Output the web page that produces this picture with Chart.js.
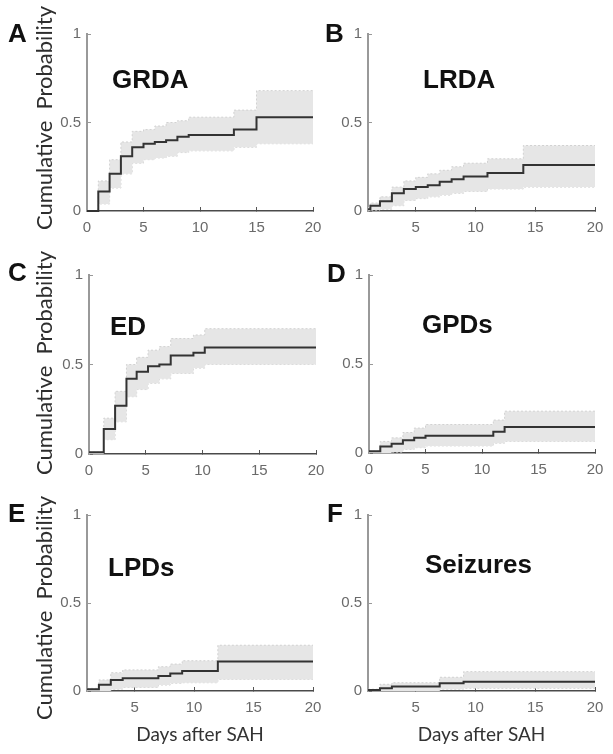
<!DOCTYPE html>
<html>
<head>
<meta charset="utf-8">
<script src="https://cdn.jsdelivr.net/npm/chart.js@4.4.0/dist/chart.umd.min.js"></script>
<style>
  html, body { margin: 0; padding: 0; background: #fff; }
  #fig { position: relative; width: 613px; height: 754px; overflow: hidden; }
  #fig canvas { position: absolute; }
</style>
</head>
<body>
<div id="fig"></div>
<script>
// --- DATA ---
const panelLetters = ['A', 'B', 'C', 'D', 'E', 'F'];
const panelTitles = ['GRDA', 'LRDA', 'ED', 'GPDs', 'LPDs', 'Seizures'];
const yTicks = [0, 0.5, 1];
const xTicksFrom0 = [0, 5, 10, 15, 20];
const xTicksFrom5 = [5, 10, 15, 20];
const yAxisLabel = 'Cumulative  Probability';
const xAxisLabel = 'Days after SAH';

// GRDA
const daysA  = [0, 1, 2, 3, 4, 5, 6, 7, 8, 9, 13, 15, 20];
const cumA   = [0, 0.11, 0.21, 0.31, 0.36, 0.38, 0.39, 0.40, 0.42, 0.43, 0.46, 0.53, 0.53];
const upperA = [0, 0.17, 0.29, 0.39, 0.45, 0.46, 0.48, 0.50, 0.51, 0.53, 0.57, 0.68, 0.68];
const lowerA = [0, 0.04, 0.13, 0.21, 0.27, 0.29, 0.30, 0.31, 0.33, 0.34, 0.36, 0.38, 0.38];

// LRDA
const daysB  = [1, 1.2, 2, 3, 4, 5, 6, 7, 8, 9, 11, 14, 20];
const cumB   = [0.01, 0.03, 0.055, 0.10, 0.125, 0.135, 0.145, 0.165, 0.18, 0.195, 0.215, 0.26, 0.26];
const upperB = [0.02, 0.045, 0.08, 0.135, 0.17, 0.19, 0.21, 0.23, 0.25, 0.27, 0.295, 0.37, 0.37];
const lowerB = [0, 0.005, 0.01, 0.03, 0.06, 0.07, 0.08, 0.09, 0.10, 0.11, 0.125, 0.135, 0.135];

// ED
const daysC  = [0, 1.3, 2.3, 3.3, 4.2, 5.2, 6.2, 7.2, 9.2, 10.2, 20];
const cumC   = [0.01, 0.14, 0.27, 0.42, 0.46, 0.49, 0.50, 0.55, 0.565, 0.595, 0.595];
const upperC = [0.01, 0.20, 0.35, 0.50, 0.54, 0.58, 0.60, 0.645, 0.665, 0.70, 0.70];
const lowerC = [0, 0.08, 0.18, 0.32, 0.36, 0.395, 0.42, 0.45, 0.48, 0.50, 0.50];

// GPDs
const daysD  = [0, 1, 2, 3, 4, 5, 11, 12, 20];
const cumD   = [0.01, 0.037, 0.052, 0.071, 0.085, 0.097, 0.12, 0.146, 0.146];
const upperD = [0.01, 0.065, 0.085, 0.115, 0.14, 0.16, 0.185, 0.235, 0.235];
const lowerD = [0, 0, 0.005, 0.02, 0.03, 0.04, 0.055, 0.065, 0.065];

// LPDs
const daysE  = [1, 2, 3, 4, 7, 8, 9, 12, 20];
const cumE   = [0.01, 0.035, 0.063, 0.072, 0.085, 0.10, 0.114, 0.167, 0.167];
const upperE = [0.015, 0.063, 0.104, 0.12, 0.138, 0.153, 0.172, 0.26, 0.26];
const lowerE = [0, 0, 0.01, 0.02, 0.034, 0.044, 0.047, 0.066, 0.066];

// Seizures
const daysF  = [1, 2, 3, 7, 9, 20];
const cumF   = [0.006, 0.015, 0.025, 0.044, 0.053, 0.053];
const upperF = [0.01, 0.038, 0.047, 0.078, 0.11, 0.11];
const lowerF = [0, 0, 0, 0.01, 0.015, 0.015];

// --- LAYOUT ---
// box = canvas position, area = plot area [left, top, right, bottom] in page pixels
const panels = [
  { days: daysA, cum: cumA, upper: upperA, lower: lowerA, xMin: 0, xTicks: xTicksFrom0,
    box: [0, 0, 330, 245], area: [87, 34, 313, 211], letterPos: [8, 42], titlePos: [112, 88] },
  { days: daysB, cum: cumB, upper: upperB, lower: lowerB, xMin: 1, xTicks: xTicksFrom5,
    box: [300, 0, 313, 245], area: [368, 34, 595, 211], letterPos: [325, 42], titlePos: [423, 88] },
  { days: daysC, cum: cumC, upper: upperC, lower: lowerC, xMin: 0, xTicks: xTicksFrom0,
    box: [0, 245, 330, 245], area: [89, 275, 316, 454], letterPos: [8, 281], titlePos: [110, 335] },
  { days: daysD, cum: cumD, upper: upperD, lower: lowerD, xMin: 0, xTicks: xTicksFrom0,
    box: [300, 245, 313, 245], area: [369, 275, 595, 453], letterPos: [327, 282], titlePos: [422, 333] },
  { days: daysE, cum: cumE, upper: upperE, lower: lowerE, xMin: 1, xTicks: xTicksFrom5,
    box: [0, 490, 330, 264], area: [87, 515, 313, 691], letterPos: [8, 522], titlePos: [108, 576] },
  { days: daysF, cum: cumF, upper: upperF, lower: lowerF, xMin: 1, xTicks: xTicksFrom5,
    box: [300, 490, 313, 264], area: [368, 515, 595, 691], letterPos: [327, 522], titlePos: [425, 573] }
];

const ARIAL = '"Liberation Sans", Arial, sans-serif';
const SOFT = 'Lato, "Liberation Sans", sans-serif';

// letters, panel names and the rotated y label
const panelText = {
  id: 'panelText',
  afterDraw(chart, args, opts) {
    const ctx = chart.ctx;
    ctx.save();
    ctx.fillStyle = '#111';
    ctx.textBaseline = 'alphabetic';
    ctx.textAlign = 'left';
    ctx.font = 'bold 26px ' + ARIAL;
    ctx.fillText(opts.letter, opts.letterX, opts.letterY);
    ctx.fillText(opts.title, opts.titleX, opts.titleY);
    if (opts.yLabel) {
      ctx.translate(45, opts.yLabelY);
      ctx.rotate(-Math.PI / 2);
      ctx.font = '22px ' + SOFT;
      ctx.fillStyle = '#2e2e2e';
      ctx.textAlign = 'center';
      ctx.textBaseline = 'middle';
      ctx.fillText(opts.yLabel, 0, 0);
    }
    ctx.restore();
  }
};

const fig = document.getElementById('fig');

panels.forEach((p, i) => {
  const [bx, by, bw, bh] = p.box;
  const [L, T, R, B] = p.area;
  const leftCol = i % 2 === 0;
  const bottomRow = i >= 4;

  const canvas = document.createElement('canvas');
  canvas.width = bw;
  canvas.height = bh;
  canvas.style.left = bx + 'px';
  canvas.style.top = by + 'px';
  canvas.style.width = bw + 'px';
  canvas.style.height = bh + 'px';
  fig.appendChild(canvas);

  const pts = vals => p.days.map((d, k) => ({ x: d, y: vals[k] }));

  new Chart(canvas.getContext('2d'), {
    type: 'line',
    data: {
      datasets: [
        // main curve first so it is painted on top of the band
        { data: pts(p.cum), stepped: 'before', borderColor: '#333', borderWidth: 2,
          fill: false, pointRadius: 0, clip: false },
        { data: pts(p.upper), stepped: 'before', borderColor: '#d2d2d2', borderWidth: 1,
          borderDash: [2, 2], backgroundColor: '#e6e6e6', fill: '+1', pointRadius: 0 },
        { data: pts(p.lower), stepped: 'before', borderColor: '#d2d2d2', borderWidth: 1,
          borderDash: [2, 2], fill: false, pointRadius: 0 }
      ]
    },
    options: {
      responsive: false,
      animation: false,
      events: [],
      layout: { padding: { left: 0, top: T - by, right: bx + bw - R, bottom: 0 } },
      plugins: {
        legend: { display: false },
        tooltip: { enabled: false },
        panelText: {
          letter: panelLetters[i], letterX: p.letterPos[0] - bx, letterY: p.letterPos[1] - by,
          title: panelTitles[i], titleX: p.titlePos[0] - bx, titleY: p.titlePos[1] - by,
          yLabel: leftCol ? yAxisLabel : null, yLabelY: 118
        }
      },
      scales: {
        x: {
          type: 'linear', min: p.xMin, max: 20, z: 1,
          // inward tick marks only, no grid lines
          grid: { display: true, drawOnChartArea: false, drawTicks: true, tickLength: -4,
                  color: '#555', lineWidth: 1 },
          border: { display: true, color: '#4a4a4a', width: 1.5 },
          ticks: { color: '#6a6a6a', font: { family: ARIAL, size: 15 }, padding: 12,
                   maxRotation: 0, autoSkip: false },
          afterBuildTicks: s => { s.ticks = p.xTicks.map(v => ({ value: v })); },
          afterFit: s => { s.height = by + bh - B; s.paddingLeft = 0; s.paddingRight = 0; },
          title: { display: bottomRow, text: xAxisLabel, color: '#333',
                   font: { family: SOFT, size: 19 }, padding: { top: 0, bottom: 8 } }
        },
        y: {
          type: 'linear', min: 0, max: 1, z: 1,
          grid: { display: true, drawOnChartArea: false, drawTicks: true, tickLength: -4,
                  color: '#999', lineWidth: 1 },
          border: { display: true, color: '#999', width: 2 },
          ticks: { color: '#6a6a6a', font: { family: ARIAL, size: 15 }, padding: 10,
                   callback: v => String(v) },
          afterBuildTicks: s => { s.ticks = yTicks.map(v => ({ value: v })); },
          afterFit: s => { s.width = L - bx; s.paddingTop = 0; s.paddingBottom = 0; }
        }
      }
    },
    plugins: [panelText]
  });
});
</script>
</body>
</html>
